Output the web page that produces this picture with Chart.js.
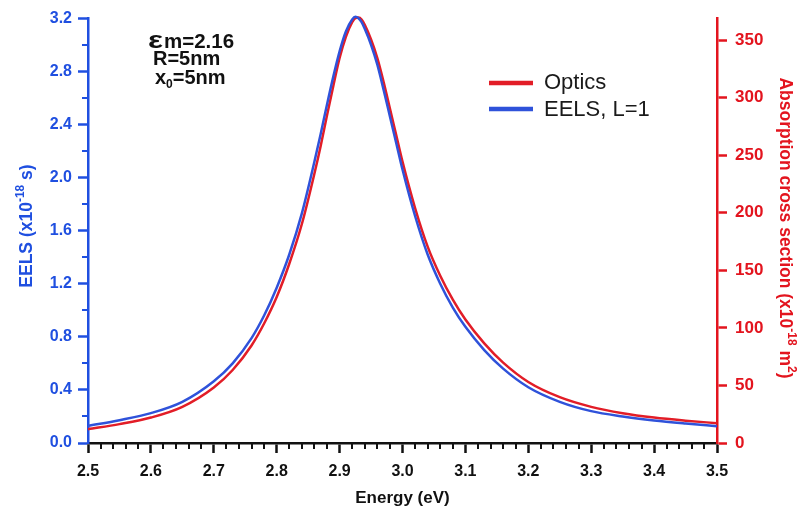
<!DOCTYPE html>
<html><head><meta charset="utf-8">
<script src="https://cdn.jsdelivr.net/npm/chart.js@4/dist/chart.umd.min.js"></script>
<style>html,body{margin:0;padding:0;background:#fff}#wrap{width:801px;height:508px;position:relative}</style>
</head><body><div id="wrap"><canvas id="c" width="801" height="508"></canvas></div>
<script>
// ---- data ----
const energy = [2.50,2.55,2.60,2.65,2.70,2.73,2.76,2.78,2.80,2.82,2.84,2.86,2.87,2.88,2.89,2.90,2.91,2.92,2.925,2.93,2.935,2.94,2.95,2.96,2.97,2.98,2.99,3.00,3.02,3.04,3.06,3.08,3.10,3.13,3.16,3.20,3.25,3.30,3.35,3.40,3.45,3.50];
// EELS, L=1 (x10^-18 s), left axis
const eels = [0.129,0.172,0.225,0.310,0.465,0.60,0.79,0.96,1.17,1.42,1.73,2.12,2.33,2.55,2.76,2.95,3.10,3.19,3.21,3.20,3.17,3.12,3.00,2.85,2.66,2.46,2.26,2.06,1.71,1.42,1.20,1.02,0.875,0.70,0.56,0.42,0.31,0.24,0.20,0.17,0.147,0.127];
// Optics absorption cross section (x10^-18 m^2), right axis
const optics = [12.0,16.4,22.1,31.4,48.2,63.4,84.7,103.8,126.8,155.7,190.2,234.1,258.3,284.8,310.2,334.4,352.8,365.5,369.0,369.5,367.8,363.2,350.5,334.4,313.6,290.6,267.5,244.4,204.1,170.6,145.3,124.5,107.2,86.5,69.8,53.0,39.8,31.4,25.9,22.1,19.4,17.2];
const xTicks = [2.5,2.6,2.7,2.8,2.9,3.0,3.1,3.2,3.3,3.4,3.5];
const leftTicks = [0.0,0.4,0.8,1.2,1.6,2.0,2.4,2.8,3.2];
const rightTicks = [0,50,100,150,200,250,300,350];
const seriesLabels = ['Optics','EELS, L=1'];
const notes = ['\u03b5','m=2.16','R=5nm','x','0','=5nm'];

const BLUE = '#1f4fe0', RED = '#e3141e', BLUE_LINE = '#2f52da', RED_LINE = '#e21d27', BLACK = '#111';
const FF = '"Liberation Sans", Arial, sans-serif';

function richText(ctx, parts, x, y, rot) {
  ctx.save();
  ctx.translate(x, y);
  ctx.rotate(rot);
  let w = 0;
  parts.forEach(p => { ctx.font = 'bold ' + p.size + 'px ' + FF; p.w = ctx.measureText(p.t).width; w += p.w; });
  let cx = -w / 2;
  ctx.textBaseline = 'alphabetic'; ctx.textAlign = 'left';
  parts.forEach(p => { ctx.font = 'bold ' + p.size + 'px ' + FF; ctx.fillText(p.t, cx, p.dy || 0); cx += p.w; });
  ctx.restore();
}

const extras = {
  id: 'extras',
  afterDraw(chart) {
    const ctx = chart.ctx, ca = chart.chartArea;
    const xs = chart.scales.x, ys = chart.scales.y;
    ctx.save();
    // minor ticks x
    ctx.strokeStyle = BLACK; ctx.lineWidth = 2;
    for (let i = 0; i < xTicks.length - 1; i++) {
      for (let k = 1; k < 5; k++) {
        const v = xTicks[i] + (xTicks[i + 1] - xTicks[i]) * k / 5;
        const px = Math.round(xs.getPixelForValue(v));
        ctx.beginPath(); ctx.moveTo(px, ca.bottom); ctx.lineTo(px, ca.bottom + 6); ctx.stroke();
      }
    }
    // minor ticks left
    ctx.strokeStyle = BLUE;
    for (let i = 0; i < leftTicks.length - 1; i++) {
      const v = (leftTicks[i] + leftTicks[i + 1]) / 2;
      const py = Math.round(ys.getPixelForValue(v));
      ctx.beginPath(); ctx.moveTo(ca.left, py); ctx.lineTo(ca.left - 6, py); ctx.stroke();
    }
    // axis titles
    ctx.fillStyle = BLACK;
    richText(ctx, [{t: 'Energy (eV)', size: 17}], (ca.left + ca.right) / 2, 503, 0);
    ctx.fillStyle = BLUE;
    richText(ctx, [{t: 'EELS (x10', size: 17.5}, {t: '-18', size: 12, dy: -8}, {t: ' s)', size: 17.5}], 31.5, 226, -Math.PI / 2);
    ctx.fillStyle = RED;
    richText(ctx, [{t: 'Absorption cross section (x10', size: 17.5}, {t: '-18', size: 12, dy: -8}, {t: ' m', size: 17.5}, {t: '2', size: 12, dy: -8}, {t: ')', size: 17.5}], 780, 228, Math.PI / 2);
    // legend
    const items = [{c: RED_LINE, y: 83, by: 89, t: seriesLabels[0]}, {c: BLUE_LINE, y: 109, by: 116, t: seriesLabels[1]}];
    items.forEach(it => {
      ctx.strokeStyle = it.c; ctx.lineWidth = 4.5;
      ctx.beginPath(); ctx.moveTo(489, it.y); ctx.lineTo(533, it.y); ctx.stroke();
      ctx.fillStyle = '#1a1a1a'; ctx.font = '22px ' + FF; ctx.textAlign = 'left'; ctx.textBaseline = 'alphabetic';
      ctx.fillText(it.t, 544, it.by);
    });
    // annotation
    ctx.fillStyle = BLACK; ctx.textAlign = 'left'; ctx.textBaseline = 'alphabetic';
    ctx.font = 'bold 23px ' + FF;
    const ew = ctx.measureText(notes[0]).width;
    ctx.save(); ctx.translate(148, 48); ctx.scale(15 / ew, 1); ctx.fillText(notes[0], 0, 0); ctx.restore();
    ctx.font = 'bold 20.5px ' + FF;
    ctx.fillText(notes[1], 164, 48);
    ctx.font = 'bold 20px ' + FF;
    ctx.fillText(notes[2], 153, 65);
    ctx.fillText(notes[3], 155, 84);
    let wx = ctx.measureText(notes[3]).width;
    ctx.font = 'bold 12px ' + FF;
    ctx.fillText(notes[4], 155 + wx, 88);
    let w0 = ctx.measureText(notes[4]).width;
    ctx.font = 'bold 20px ' + FF;
    ctx.fillText(notes[5], 155 + wx + w0, 84);
    ctx.restore();
  }
};

new Chart(document.getElementById('c'), {
  type: 'line',
  data: {
    datasets: [
      {label: seriesLabels[1], data: energy.map((e, i) => ({x: e, y: eels[i]})), yAxisID: 'y', borderColor: BLUE_LINE, borderWidth: 2.5, pointRadius: 0, cubicInterpolationMode: 'monotone', fill: false, clip: 6},
      {label: seriesLabels[0], data: energy.map((e, i) => ({x: e, y: optics[i]})), yAxisID: 'y2', borderColor: RED_LINE, borderWidth: 2.5, pointRadius: 0, cubicInterpolationMode: 'monotone', fill: false, clip: 6}
    ]
  },
  options: {
    responsive: false, animation: false, devicePixelRatio: 1,
    layout: {padding: {top: 14, left: 0, right: 0, bottom: 0}},
    plugins: {legend: {display: false}, tooltip: {enabled: false}},
    scales: {
      x: {
        type: 'linear', position: 'bottom', min: 2.5, max: 3.5,
        afterBuildTicks: s => { s.ticks = xTicks.map(v => ({value: v})); },
        afterFit: s => { s.height = 65; },
        ticks: {callback: v => Number(v).toFixed(1), color: BLACK, font: {family: FF, size: 16, weight: 'bold'}, padding: 9, maxRotation: 0, autoSkip: false},
        grid: {drawOnChartArea: false, drawTicks: true, tickLength: 10, tickWidth: 2.5, tickColor: BLACK},
        border: {color: BLACK, width: 2.5}
      },
      y: {
        type: 'linear', position: 'left', min: 0, max: 3.2,
        afterBuildTicks: s => { s.ticks = leftTicks.map(v => ({value: v})); },
        afterFit: s => { s.width = 88; },
        ticks: {callback: v => Number(v).toFixed(1), color: BLUE, font: {family: FF, size: 16, weight: 'bold'}, padding: 6, autoSkip: false},
        grid: {drawOnChartArea: false, drawTicks: true, tickLength: 10, tickWidth: 2.5, tickColor: BLUE},
        border: {color: BLUE, width: 2.5}
      },
      y2: {
        type: 'linear', position: 'right', min: 0, max: 369,
        afterBuildTicks: s => { s.ticks = rightTicks.map(v => ({value: v})); },
        afterFit: s => { s.width = 84; },
        ticks: {callback: v => String(v), color: RED, font: {family: FF, size: 17, weight: 'bold'}, padding: 8, autoSkip: false},
        grid: {drawOnChartArea: false, drawTicks: true, tickLength: 10, tickWidth: 2.5, tickColor: RED},
        border: {color: RED, width: 2.5}
      }
    }
  },
  plugins: [extras]
});
</script>
</body></html>
